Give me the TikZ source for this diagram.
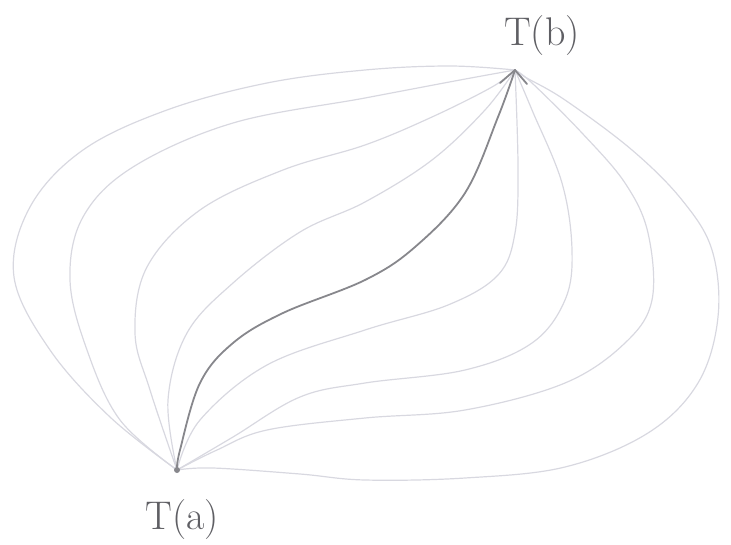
\documentclass[tikz,border=0pt]{standalone}
\usetikzlibrary{calc}
\definecolor{faintc}{RGB}{216,216,224}
\definecolor{mainc}{RGB}{135,135,140}
\definecolor{lblc}{RGB}{95,95,100}
\begin{document}
\begin{tikzpicture}[x=1pt,y=-1pt,
  faint/.style={draw=faintc, line width=1.2pt, line cap=round},
  main/.style={draw=mainc, line width=1.8pt, line cap=round},
  lbl/.style={text=lblc, font=\fontsize{40}{46}\selectfont, inner sep=0pt}]
\useasboundingbox (0,0) rectangle (731,544);
\coordinate (A) at (177,470);
\coordinate (B) at (515,70);
\node[lbl] (la) at (182,520) {T(a)};
\node[lbl] (lb) at (542,36) {T(b)};
% left family
\draw[faint] plot[smooth,tension=0.6] coordinates {(A) (110,417) (50,350) (14,277) (30,207) (83,150) (167,110) (267,83) (365,70) (450,66) (B)};
\draw[faint] plot[smooth,tension=0.6] coordinates {(A) (120,420) (87,350) (70,280) (83,217) (133,167) (233,123) (365,98) (460,80) (B)};
\draw[faint] plot[smooth,tension=0.6] coordinates {(A) (150,390) (135,333) (147,267) (200,210) (283,170) (365,145) (432,117) (492,87) (B)};
\draw[faint] plot[smooth,tension=0.6] coordinates {(A) (168,400) (187,333) (233,283) (300,232) (365,202) (432,160) (485,110) (B)};
% right family
\draw[faint] plot[smooth,tension=0.6] coordinates {(A) (200,420) (267,365) (365,330) (448,305) (498,275) (515,233) (518,167) (B)};
\draw[faint] plot[smooth,tension=0.6] coordinates {(A) (233,437) (300,397) (365,383) (465,370) (532,343) (565,300) (572,250) (562,183) (532,110) (B)};
\draw[faint] plot[smooth,tension=0.6] coordinates {(A) (217,450) (267,430) (365,418) (465,410) (565,383) (625,343) (652,300) (648,233) (625,183) (582,133) (532,83) (B)};
\draw[faint] plot[smooth,tension=0.6] coordinates {(A) (213,468) (300,474) (365,480) (465,478) (565,467) (648,433) (698,383) (718,317) (712,250) (682,200) (632,150) (565,100) (525,77) (B)};
% main curve
\draw[main] plot[smooth,tension=0.6] coordinates {(A) (180,450) (200,383) (233,343) (283,313) (365,280) (415,247) (465,193) (498,117) (B)};
\draw[main, line join=round] ($(B)+(-15,13)$) -- (B) -- ($(B)+(12,14)$);
\fill[mainc] (A) circle (3);
\end{tikzpicture}
\end{document}
